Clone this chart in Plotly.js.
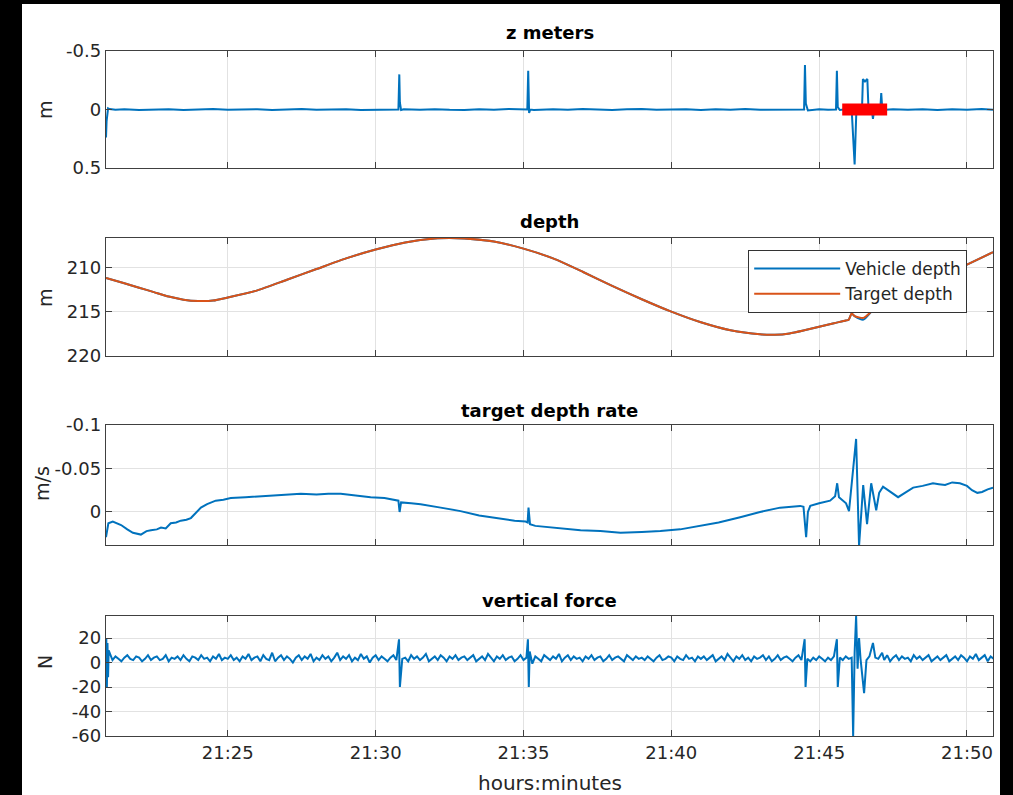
<!DOCTYPE html>
<html>
<head>
<meta charset="utf-8">
<script src="https://cdn.plot.ly/plotly-3.0.1.min.js"></script>
<style>
  html, body { margin: 0; padding: 0; background: #000; overflow: hidden; }
  #plot { position: absolute; left: 22px; top: 4px; width: 978px; height: 791px; background: #fff; }
</style>
</head>
<body>
<div id="plot"></div>
<script>
// ---- data (time = minutes after 21:20) ----
const zData = [[0.88,0.24],[0.9,0.1],[0.95,-0.01],[1.0,-0.004],[1.2,0.003],[1.5,-0.002],[2,0.004],[2.5,0.001],[3,-0.003],[3.5,0.004],[4,0.001],[4.5,-0.004],[5,0.003],[5.5,0.0],[6,-0.003],[6.5,0.004],[7,0.001],[7.5,-0.004],[8,0.002],[8.5,0.0],[9,-0.003],[9.5,0.004],[10,0.001],[10.5,-0.002],[10.77,0.0],[10.8,-0.30],[10.82,-0.06],[10.86,0.005],[10.95,-0.002],[11.5,0.003],[12,-0.003],[12.5,0.002],[13,0.004],[13.5,-0.002],[14,0.002],[14.5,-0.004],[15,0.002],[15.13,0.0],[15.16,-0.33],[15.19,0.03],[15.23,0.0],[15.35,0.004],[16,-0.002],[16.5,0.003],[17,-0.004],[17.5,0.002],[18,0.004],[18.5,-0.002],[19,-0.004],[19.5,0.002],[20,0.001],[20.5,-0.003],[21,0.004],[21.5,-0.002],[22,0.002],[22.5,-0.004],[23,0.002],[23.5,0.003],[24,-0.002],[24.3,0.003],[24.49,0.0],[24.52,-0.38],[24.55,-0.05],[24.62,0.008],[25,-0.002],[25.3,0.002],[25.57,0.0],[25.6,-0.33],[25.63,-0.02],[25.7,0.004],[25.9,-0.002],[26.1,0.002],[26.2,0.47],[26.26,0.0],[26.35,-0.02],[26.45,-0.01],[26.48,-0.26],[26.55,-0.24],[26.6,-0.25],[26.63,-0.26],[26.67,0.0],[26.78,0.0],[26.82,0.08],[26.86,0.0],[26.95,0.01],[27.07,-0.01],[27.1,-0.14],[27.13,-0.02],[27.25,0.002],[27.5,-0.003],[28,0.003],[28.5,-0.002],[29,0.004],[29.5,-0.002],[30,0.003],[30.5,-0.004],[30.88,0.002]];
const zTargetTime = [25.78, 27.3];
const zTargetVal = [0, 0];

const targetDepth = [[0.88,211.2],[1.5,211.8],[2,212.3],[2.5,212.8],[3,213.3],[3.5,213.65],[4,213.8],[4.5,213.75],[5,213.4],[6,212.6],[7,211.4],[8,210.2],[9,209.0],[10,208.0],[11,207.2],[12,206.75],[12.5,206.7],[13,206.75],[14,207.1],[15,207.9],[16,209.0],[17,210.5],[18,212.1],[19,213.6],[20,215.0],[21,216.2],[22,217.1],[23,217.55],[23.5,217.6],[24,217.45],[24.5,217.1],[25,216.7],[25.5,216.3],[25.9,216.0],[26.0,215.9],[26.1,215.2],[26.2,215.5],[26.5,215.7],[26.8,214.9],[27.2,214.0],[28,212.8],[29,211.3],[30,209.7],[30.88,208.3]];
const vehicleDepth = [[0.88,211.2],[1.5,211.8],[2,212.3],[2.5,212.8],[3,213.3],[3.5,213.65],[4,213.8],[4.5,213.75],[5,213.4],[6,212.6],[7,211.4],[8,210.2],[9,209.0],[10,208.0],[11,207.2],[12,206.75],[12.5,206.7],[13,206.75],[14,207.1],[15,207.9],[16,209.0],[17,210.5],[18,212.1],[19,213.6],[20,215.0],[21,216.2],[22,217.1],[23,217.55],[23.5,217.6],[24,217.45],[24.5,217.1],[25,216.7],[25.5,216.3],[25.9,216.0],[26.0,215.9],[26.1,215.2],[26.2,215.5],[26.5,215.9],[26.8,214.9],[27.2,214.0],[28,212.8],[29,211.3],[30,209.7],[30.88,208.3]];

const rateData = [[0.88,0.029],[0.92,0.02],[0.96,0.013],[1.11,0.011],[1.25,0.013],[1.39,0.015],[1.6,0.02],[1.79,0.024],[2.06,0.026],[2.25,0.022],[2.4,0.021],[2.6,0.02],[2.74,0.018],[2.9,0.019],[3.07,0.013],[3.25,0.012],[3.41,0.010],[3.6,0.009],[3.75,0.007],[3.9,0.002],[4.09,-0.005],[4.3,-0.009],[4.59,-0.013],[4.85,-0.014],[5.1,-0.016],[5.6,-0.017],[6.11,-0.018],[6.6,-0.019],[7.0,-0.02],[7.47,-0.021],[8.0,-0.02],[8.4,-0.021],[8.82,-0.021],[9.3,-0.019],[9.83,-0.017],[10.3,-0.016],[10.68,-0.014],[10.77,-0.013],[10.81,0.0],[10.86,-0.011],[11.2,-0.01],[11.52,-0.009],[12.2,-0.005],[12.87,-0.001],[13.5,0.004],[14.22,0.008],[14.7,0.01],[15.07,0.011],[15.14,0.012],[15.17,-0.005],[15.22,0.014],[15.4,0.016],[15.74,0.017],[16.3,0.019],[16.93,0.021],[17.6,0.022],[18.28,0.024],[19.0,0.023],[19.63,0.022],[20.3,0.02],[20.98,0.016],[21.6,0.012],[22.33,0.006],[23.0,0.0],[23.68,-0.005],[24.0,-0.006],[24.36,-0.007],[24.47,-0.006],[24.56,0.029],[24.62,0.0],[24.7,-0.007],[25.0,-0.01],[25.37,-0.013],[25.54,-0.018],[25.61,-0.033],[25.67,-0.017],[25.91,-0.01],[26.01,-0.001],[26.25,-0.084],[26.35,0.039],[26.49,-0.031],[26.62,0.014],[26.76,-0.033],[26.93,-0.002],[27.03,-0.022],[27.16,-0.029],[27.4,-0.023],[27.67,-0.017],[27.9,-0.022],[28.18,-0.028],[28.5,-0.03],[28.85,-0.033],[29.05,-0.032],[29.26,-0.031],[29.5,-0.034],[29.76,-0.033],[30.0,-0.03],[30.17,-0.025],[30.35,-0.022],[30.51,-0.023],[30.7,-0.026],[30.88,-0.028]];

// vertical force: background readings sampled every 0.1 min from 1.0 min, plus spike events
const forceNoiseStart = 1.0;
const forceNoiseStep = 0.1;
const forceNoise = [
  4,2,5,3,1,4,6,3,2,5,4,1,3,6,2,4,5,2,3,6,
  1,4,3,5,2,6,3,1,5,4,2,6,3,4,1,5,3,7,2,4,
  3,6,2,4,1,5,3,7,2,4,5,1,6,3,2,8,1,4,6,2,
  5,3,0,4,6,2,5,3,7,1,4,2,6,3,5,1,4,8,2,5,
  3,6,1,4,2,7,3,5,0,4,6,2,5,3,1,4,6,2,5,3,
  4,1,6,3,5,2,4,7,1,3,5,2,6,4,1,5,3,6,2,4,
  5,2,4,6,1,3,5,2,7,4,1,5,3,6,2,4,5,1,3,6,
  2,4,7,-1,5,3,1,6,4,2,5,3,7,1,4,6,2,5,3,4,
  1,5,3,6,2,4,5,1,3,6,2,4,5,3,1,6,4,2,5,3,
  4,2,5,3,1,4,6,2,3,5,4,1,5,3,2,6,3,4,1,5,
  3,5,2,4,6,1,3,5,2,7,4,1,5,3,6,2,4,1,5,3,
  4,6,2,5,1,3,6,2,4,5,3,1,4,6,2,5,3,1,4,2,
  5,3,1,4,2,5,3,4,2,5,3,4,2,5,3,4,2,5,3,4,
  3,5,2,6,1,4,6,2,5,3,4,1,6,3,5,2,4,6,1,3,
  5,2,4,6,1,3,5,2,6,4,1,5,3,7,2,4,6,1,5,3
];
const forceSpikes = [[0.88,2],[0.89,20],[0.91,-20],[0.93,16],[0.95,-12],[0.97,10],
  [10.79,19],[10.82,-20],[15.15,19],[15.18,-20],[15.21,9],[24.51,19],[24.54,-20],
  [25.6,19],[25.63,-20],[26.15,-60],[26.2,8],[26.25,38],[26.3,-5],[26.35,20],
  [26.52,-25],[26.82,16],[27.13,8]];

const titles = ['z meters', 'depth', 'target depth rate', 'vertical force'];
const yTitles = ['m', 'm', 'm/s', 'N'];
const legendNames = ['Vehicle depth', 'Target depth'];
const timeRange = [0.88, 30.88];
const tickStart = 5;          // 21:25
const tickStepMin = 5;
const zTicks = [-0.5, 0, 0.5];
const zTickText = ['-0.5', '0', '0.5'];
const depthTicks = [210, 215, 220];
const depthTickText = ['210', '215', '220'];
const rateTicks = [-0.1, -0.05, 0];
const rateTickText = ['-0.1', '-0.05', '0'];
const forceTicks = [-60, -40, -20, 0, 20];
const forceTickText = ['-60', '-40', '-20', '0', '20'];

// ---- helpers ----
const BASE = Date.UTC(2000, 0, 1, 21, 20, 0);
const toMs = m => BASE + m * 60000;
const xs = arr => arr.map(p => toMs(p[0]));
const ys = arr => arr.map(p => p[1]);

// merge force background readings with spike events
const forceData = (() => {
  const pts = forceNoise.map((v, i) => [forceNoiseStart + i * forceNoiseStep, v])
    .filter(p => !forceSpikes.some(s => Math.abs(s[0] - p[0]) < 0.035));
  return pts.concat(forceSpikes).sort((a, b) => a[0] - b[0]);
})();

const BLUE = '#0072BD', ORANGE = '#D95319', RED = '#FF0000';
const FONT = 'DejaVu Sans, Arial, sans-serif';
const AX = '#404040', GRID = '#e2e2e2';

const traces = [
  {x: xs(zData), y: ys(zData), xaxis: 'x', yaxis: 'y', type: 'scatter', mode: 'lines',
   line: {color: BLUE, width: 2}, showlegend: false},
  {x: zTargetTime.map(toMs), y: zTargetVal, xaxis: 'x', yaxis: 'y', type: 'scatter', mode: 'lines',
   line: {color: RED, width: 12}, showlegend: false},
  {x: xs(vehicleDepth), y: ys(vehicleDepth), xaxis: 'x2', yaxis: 'y2', type: 'scatter', mode: 'lines',
   name: legendNames[0], line: {color: BLUE, width: 2, shape: 'spline', smoothing: 0.6}},
  {x: xs(targetDepth), y: ys(targetDepth), xaxis: 'x2', yaxis: 'y2', type: 'scatter', mode: 'lines',
   name: legendNames[1], line: {color: ORANGE, width: 2, shape: 'spline', smoothing: 0.6}},
  {x: xs(rateData), y: ys(rateData), xaxis: 'x3', yaxis: 'y3', type: 'scatter', mode: 'lines',
   line: {color: BLUE, width: 2}, showlegend: false},
  {x: xs(forceData), y: ys(forceData), xaxis: 'x4', yaxis: 'y4', type: 'scatter', mode: 'lines',
   line: {color: BLUE, width: 2}, showlegend: false}
];

function xAxis(anchor, showLabels) {
  return {
    type: 'date', anchor: anchor, domain: [0, 1],
    range: [toMs(timeRange[0]), toMs(timeRange[1])],
    tick0: toMs(tickStart), dtick: tickStepMin * 60000, tickformat: '%H:%M',
    showticklabels: showLabels, ticks: 'inside', ticklen: 6, tickcolor: AX, tickwidth: 1,
    showline: true, linecolor: AX, linewidth: 1.2, mirror: 'ticks',
    showgrid: true, gridcolor: GRID, gridwidth: 1, zeroline: false,
    tickfont: {family: FONT, size: 18, color: '#262626'}, fixedrange: true
  };
}
function yAxis(anchor, domain, range, tickvals, ticktext) {
  return {
    anchor: anchor, domain: domain, range: range, tickmode: 'array',
    tickvals: tickvals, ticktext: ticktext,
    ticks: 'inside', ticklen: 6, tickcolor: AX, tickwidth: 1,
    showline: true, linecolor: AX, linewidth: 1.2, mirror: 'ticks',
    showgrid: true, gridcolor: GRID, gridwidth: 1, zeroline: false,
    tickfont: {family: FONT, size: 18, color: '#262626'}, fixedrange: true
  };
}

const titleY = [1.0263, 0.7504, 0.4759, 0.1985];
const yTitlePos = [[-0.0688, 0.9153], [-0.0688, 0.6409], [-0.0722, 0.3693], [-0.0688, 0.108]];
const annotations = [];
titles.forEach((t, i) => annotations.push({
  text: '<b>' + t + '</b>', xref: 'paper', yref: 'paper', x: 0.5, y: titleY[i],
  xanchor: 'center', yanchor: 'middle', showarrow: false,
  font: {family: FONT, size: 18, color: '#000'}
}));
yTitles.forEach((t, i) => annotations.push({
  text: t, xref: 'paper', yref: 'paper', x: yTitlePos[i][0], y: yTitlePos[i][1],
  xanchor: 'center', yanchor: 'middle', textangle: -90, showarrow: false,
  font: {family: FONT, size: 19, color: '#262626'}
}));
annotations.push({
  text: 'hours:minutes', xref: 'paper', yref: 'paper', x: 0.5, y: -0.0686,
  xanchor: 'center', yanchor: 'middle', showarrow: false,
  font: {family: FONT, size: 20, color: '#262626'}
});

const layout = {
  width: 978, height: 791,
  margin: {l: 84, r: 7, t: 47, b: 59, pad: 0},
  paper_bgcolor: '#fff', plot_bgcolor: '#fff',
  font: {family: FONT, color: '#262626'},
  showlegend: true,
  legend: {
    x: 0.724, y: 0.7095, xanchor: 'left', yanchor: 'top',
    bgcolor: '#fff', bordercolor: '#333', borderwidth: 1,
    font: {family: FONT, size: 17, color: '#262626'}, itemwidth: 86,
    tracegroupgap: 0
  },
  xaxis: xAxis('y', false),
  xaxis2: xAxis('y2', false),
  xaxis3: xAxis('y3', false),
  xaxis4: xAxis('y4', true),
  yaxis: yAxis('x', [0.8292, 1], [0.5, -0.5], zTicks, zTickText),
  yaxis2: yAxis('x2', [0.5547, 0.7270], [220, 206.7], depthTicks, depthTickText),
  yaxis3: yAxis('x3', [0.2788, 0.4540], [0.038, -0.1], rateTicks, rateTickText),
  yaxis4: yAxis('x4', [0, 0.1752], [-60, 38], forceTicks, forceTickText),
  annotations: annotations
};

Plotly.newPlot('plot', traces, layout, {staticPlot: true, displayModeBar: false});
</script>
</body>
</html>
